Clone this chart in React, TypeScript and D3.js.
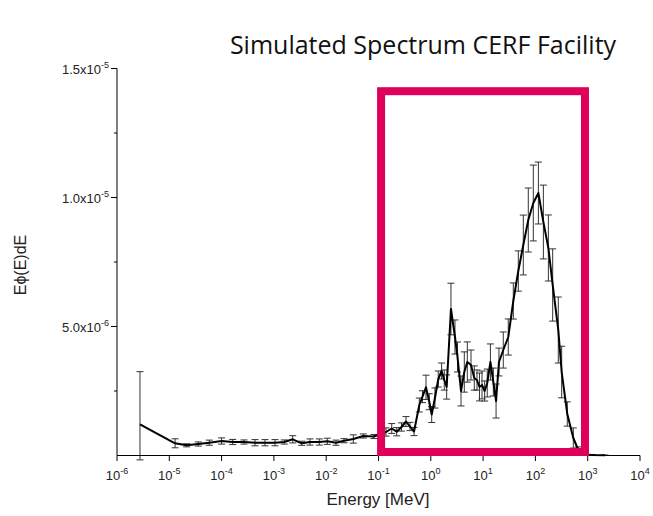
import React from "react";
import * as d3 from "d3";

// Energy [MeV]
const energy = [
  2.75e-6, 1.29e-5, 2.15e-5, 3.58e-5, 5.82e-5, 1.0e-4, 1.63e-4, 2.68e-4, 4.35e-4, 6.76e-4,
  1.05e-3, 1.58e-3, 2.29e-3, 3.4e-3, 4.9e-3, 7.38e-3, 1.05e-2, 1.54e-2, 2.19e-2, 3.3e-2,
  5.12e-2, 8.2e-2, 0.139, 0.179, 0.223, 0.275, 0.336, 0.4, 0.478, 0.603,
  0.693, 0.809, 0.935, 1.04, 1.2, 1.39, 1.61, 1.81, 2.01, 2.43,
  2.9, 3.24, 3.78, 4.37, 4.99, 5.87, 6.79, 7.64, 8.53, 9.53,
  10.7, 12.0, 13.8, 15.7, 17.7, 20.1, 24.3, 30.3, 37.8, 47.1,
  58.7, 73.1, 91.2, 114, 142, 177, 214, 274, 318, 407,
  531, 661, 849, 1208, 2143,
];

// E·phi(E)dE values (x 1e-6)
const fluxE6 = [
  1.21, 0.473, 0.395, 0.446, 0.496, 0.562, 0.523, 0.523, 0.496, 0.496,
  0.496, 0.523, 0.628, 0.473, 0.523, 0.523, 0.55, 0.496, 0.574, 0.64,
  0.756, 0.736, 0.911, 1.047, 0.922, 1.105, 1.318, 1.124, 0.93, 1.957,
  2.279, 2.643, 2.085, 1.589, 2.229, 2.965, 3.275, 2.926, 2.655, 5.678,
  4.593, 3.818, 2.5, 3.236, 3.624, 3.508, 3.004, 2.926, 2.655, 2.733,
  2.5, 2.81, 3.624, 2.849, 2.112, 3.624, 4.089, 4.593, 5.988, 7.151,
  8.159, 9.128, 9.787, 10.174, 9.05, 8.043, 6.609, 4.864, 3.236, 1.609,
  0.678, 0.213, 0.039, 0.02, 0.01,
];

// upper error (x 1e-6)
const errUpE6 = [
  2.04, 0.174, 0.06, 0.08, 0.1, 0.12, 0.1, 0.08, 0.12, 0.12,
  0.12, 0.08, 0.14, 0.08, 0.12, 0.12, 0.12, 0.1, 0.08, 0.16,
  0.08, 0.08, 0.16, 0.19, 0.16, 0.16, 0.19, 0.16, 0.16, 0.27,
  0.23, 0.47, 0.31, 0.31, 0.39, 0.31, 0.31, 0.39, 0.47, 1.0,
  0.66, 0.58, 0.58, 0.78, 0.78, 0.58, 0.47, 0.39, 0.54, 0.54,
  0.39, 0.54, 0.7, 0.54, 0.66, 0.54, 0.7, 0.7, 0.7, 0.78,
  1.16, 1.24, 1.47, 1.2, 1.43, 1.28, 1.4, 1.28, 1.0, 0.47,
  0.39, 0.12, 0.04, 0.02, 0.01,
];

// lower error (x 1e-6)
const errDownE6 = [
  1.38, 0.174, 0.06, 0.08, 0.1, 0.12, 0.1, 0.08, 0.12, 0.12,
  0.12, 0.08, 0.14, 0.08, 0.12, 0.12, 0.12, 0.1, 0.08, 0.16,
  0.08, 0.08, 0.16, 0.19, 0.16, 0.16, 0.19, 0.16, 0.16, 0.27,
  0.23, 0.47, 0.31, 0.31, 0.39, 0.31, 0.31, 0.39, 0.47, 1.0,
  0.66, 0.58, 0.58, 0.78, 0.78, 0.58, 0.47, 0.39, 0.54, 0.54,
  0.39, 0.54, 0.7, 0.54, 0.66, 0.54, 0.7, 0.7, 0.7, 0.78,
  1.16, 1.24, 1.47, 1.2, 1.43, 1.28, 1.4, 1.28, 1.0, 0.47,
  0.39, 0.12, 0.04, 0.02, 0.01,
];

const xTickExponents = [-6, -5, -4, -3, -2, -1, 0, 1, 2, 3, 4];
const yTickValues = [5e-6, 1e-5, 1.5e-5];
const yTickMantissas = ["5.0", "1.0", "1.5"];
const yTickExponents = ["-6", "-5", "-5"];
const yMinorTicks = [2.5e-6, 7.5e-6, 1.25e-5];

// highlighted energy window [MeV]
const boxEnergy = [0.112, 887];
const boxFlux = [1.412e-5, 1.36e-7];

const TITLE = "Simulated Spectrum CERF Facility";
const X_LABEL = "Energy [MeV]";
const Y_LABEL = "E\u03d5(E)dE";

export default function App() {
  const W = 653;
  const H = 516;
  const x = d3.scaleLog().domain([1e-6, 1e4]).range([117, 640]);
  const y = d3.scaleLinear().domain([0, 1.5e-5]).range([455.5, 68.5]);

  const pts = energy.map((e, i) => ({
    e,
    v: fluxE6[i] * 1e-6,
    hi: (fluxE6[i] + errUpE6[i]) * 1e-6,
    lo: (fluxE6[i] - errDownE6[i]) * 1e-6,
  }));

  const line = d3
    .line<{ e: number; v: number }>()
    .x((d) => x(d.e))
    .y((d) => y(d.v));

  const tickFont = "'Liberation Sans', Arial, sans-serif";
  const cap = 3.5;

  return (
    <svg width={W} height={H} style={{ position: "absolute", left: 0, top: 0 }}>
      <rect width={W} height={H} fill="#fff" />
      <text
        x={423}
        y={54}
        textAnchor="middle"
        fontFamily="'Open Sans', sans-serif"
        fontSize={25}
        fill="#111"
      >
        {TITLE}
      </text>

      {/* error bars */}
      <g stroke="#333" strokeWidth={1}>
        {pts.map((p, i) => {
          const cx = x(p.e);
          return (
            <g key={i}>
              <line x1={cx} x2={cx} y1={y(p.hi)} y2={y(p.lo)} />
              <line x1={cx - cap} x2={cx + cap} y1={y(p.hi)} y2={y(p.hi)} />
              <line x1={cx - cap} x2={cx + cap} y1={y(p.lo)} y2={y(p.lo)} />
            </g>
          );
        })}
      </g>

      {/* main line */}
      <path d={line(pts) || ""} fill="none" stroke="#000" strokeWidth={2} strokeLinejoin="round" />

      {/* axes */}
      <g stroke="#000" strokeWidth={1} fill="none">
        <line x1={117} x2={640} y1={455.5} y2={455.5} />
        <line x1={117} x2={117} y1={68.5} y2={455.5} />
        {xTickExponents.map((k) => (
          <line key={k} x1={x(Math.pow(10, k))} x2={x(Math.pow(10, k))} y1={455.5} y2={461} />
        ))}
        {yTickValues.map((v) => (
          <line key={v} x1={111} x2={117} y1={y(v)} y2={y(v)} />
        ))}
        {yMinorTicks.map((v) => (
          <line key={v} x1={114} x2={117} y1={y(v)} y2={y(v)} />
        ))}
      </g>

      {/* x tick labels */}
      <g fontFamily={tickFont} fontSize={13} fill="#222">
        {xTickExponents.map((k) => (
          <text key={k} x={x(Math.pow(10, k))} y={480} textAnchor="middle">
            10
            <tspan fontSize={9} dy={-6}>
              {k}
            </tspan>
          </text>
        ))}
      </g>

      {/* y tick labels */}
      <g fontFamily={tickFont} fontSize={13} fill="#222">
        {yTickValues.map((v, i) => (
          <text key={v} x={109} y={y(v) + 5} textAnchor="end">
            {yTickMantissas[i]}x10
            <tspan fontSize={9} dy={-6}>
              {yTickExponents[i]}
            </tspan>
          </text>
        ))}
      </g>

      <text x={378} y={505} textAnchor="middle" fontFamily={tickFont} fontSize={17} fill="#222">
        {X_LABEL}
      </text>
      <text
        transform="translate(26,265) rotate(-90)"
        textAnchor="middle"
        fontFamily={tickFont}
        fontSize={16}
        fill="#222"
      >
        {Y_LABEL}
      </text>

      {/* highlight box */}
      <rect
        x={x(boxEnergy[0])}
        y={y(boxFlux[0])}
        width={x(boxEnergy[1]) - x(boxEnergy[0])}
        height={y(boxFlux[1]) - y(boxFlux[0])}
        fill="none"
        stroke="#DF005C"
        strokeWidth={8}
      />
    </svg>
  );
}
